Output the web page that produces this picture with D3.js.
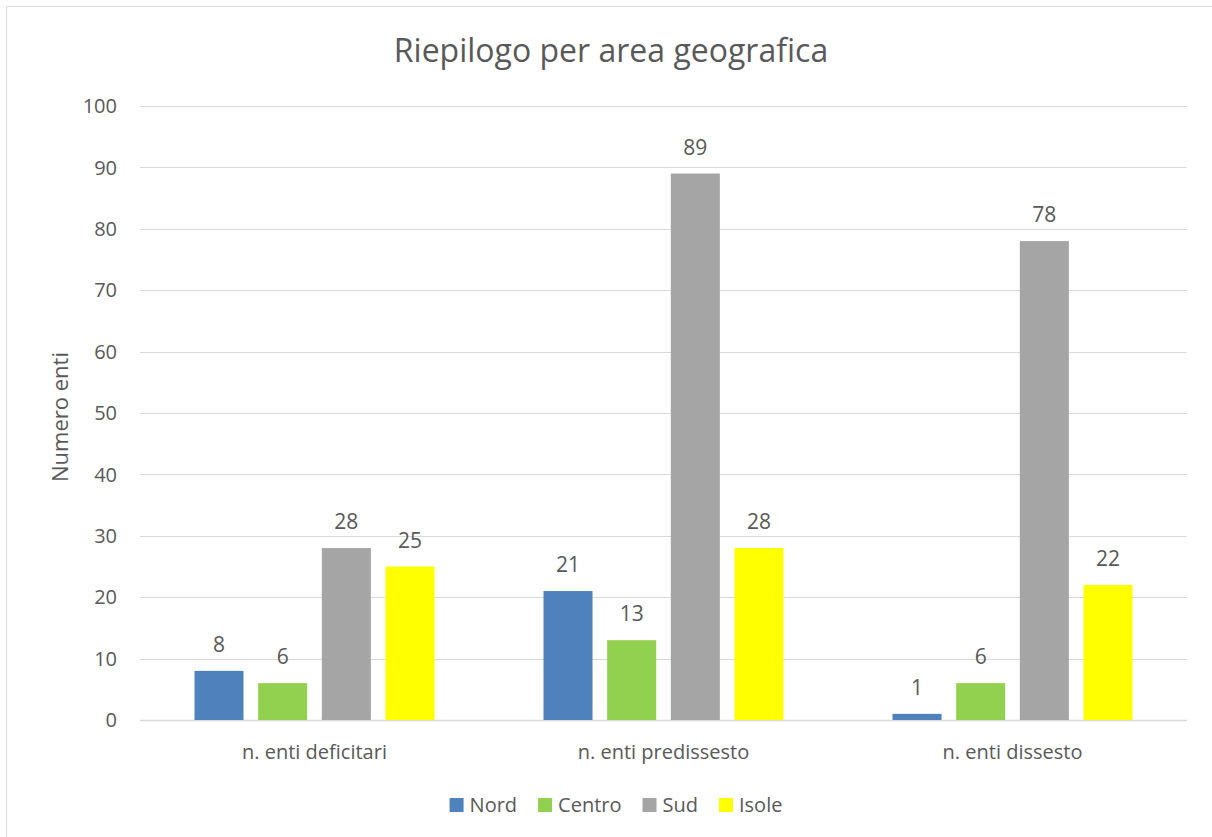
<!DOCTYPE html>
<html>
<head>
<meta charset="utf-8">
<script src="https://cdn.jsdelivr.net/npm/d3@7"></script>
<style>
  body { margin: 0; background: #fff; }
  text { font-family: "Open Sans", "Liberation Sans", sans-serif; fill: #595959; }
</style>
</head>
<body>
<svg id="chart" width="1212" height="837"></svg>
<script>
const categories = ["n. enti deficitari", "n. enti predissesto", "n. enti dissesto"];
const seriesNames = ["Nord", "Centro", "Sud", "Isole"];
const seriesColors = ["#4F81BD", "#92D050", "#A5A5A5", "#FFFF00"];
const nord = [8, 21, 1];
const centro = [6, 13, 6];
const sud = [28, 89, 78];
const isole = [25, 28, 22];
const yTicks = [0, 10, 20, 30, 40, 50, 60, 70, 80, 90, 100];

const values = [nord, centro, sud, isole];

const svg = d3.select("#chart");

// chart border
svg.append("rect")
    .attr("x", 6.5).attr("y", 6.5)
    .attr("width", 1220).attr("height", 850)
    .attr("fill", "none")
    .attr("stroke", "#D9D9D9");

const plotLeft = 140, plotRight = 1187, plotTop = 106, plotBottom = 720;

const y = d3.scaleLinear().domain([0, 100]).range([plotBottom, plotTop]);
const x0 = d3.scaleBand().domain(categories).range([plotLeft, plotRight]);
const x1 = d3.scaleBand().domain(seriesNames)
    .range([54.5, x0.bandwidth() - 54.5])
    .paddingInner(0.23);

// gridlines
svg.append("g")
    .selectAll("line")
    .data(yTicks)
    .join("line")
    .attr("x1", plotLeft).attr("x2", plotRight)
    .attr("y1", d => Math.round(y(d)) + 0.5)
    .attr("y2", d => Math.round(y(d)) + 0.5)
    .attr("stroke", "#D9D9D9")
    .attr("stroke-width", d => d === 0 ? 1.5 : 1);

// y tick labels
svg.append("g")
    .attr("font-size", 20)
    .attr("text-anchor", "end")
    .selectAll("text")
    .data(yTicks)
    .join("text")
    .attr("x", 117)
    .attr("y", d => y(d))
    .attr("dy", "0.36em")
    .text(d => d);

// bars
const groups = svg.append("g")
    .selectAll("g")
    .data(categories)
    .join("g")
    .attr("transform", d => `translate(${x0(d)},0)`);

groups.selectAll("rect")
    .data((c, i) => seriesNames.map((s, j) => ({ s, j, v: values[j][i] })))
    .join("rect")
    .attr("x", d => x1(d.s))
    .attr("y", d => y(d.v))
    .attr("width", x1.bandwidth())
    .attr("height", d => y(0) - y(d.v))
    .attr("fill", d => seriesColors[d.j]);

groups.selectAll("text")
    .data((c, i) => seriesNames.map((s, j) => ({ s, j, v: values[j][i] })))
    .join("text")
    .attr("font-size", 21)
    .attr("text-anchor", "middle")
    .attr("x", d => x1(d.s) + x1.bandwidth() / 2)
    .attr("y", d => y(d.v) - 19)
    .text(d => d.v);

// category labels
svg.append("g")
    .attr("font-size", 20)
    .attr("text-anchor", "middle")
    .selectAll("text")
    .data(categories)
    .join("text")
    .attr("x", d => x0(d) + x0.bandwidth() / 2)
    .attr("y", 759)
    .text(d => d);

// title
svg.append("text")
    .attr("x", 611).attr("y", 62)
    .attr("text-anchor", "middle")
    .attr("font-size", 32)
    .text("Riepilogo per area geografica");

// y axis title
svg.append("text")
    .attr("transform", "translate(68,417) rotate(-90)")
    .attr("text-anchor", "middle")
    .attr("font-size", 22)
    .text("Numero enti");

// legend
const legend = svg.append("g").attr("font-size", 20);
const items = legend.selectAll("g")
    .data(seriesNames)
    .join("g");
items.append("rect")
    .attr("width", 14).attr("height", 14)
    .attr("y", 798)
    .attr("fill", (d, i) => seriesColors[i]);
items.append("text")
    .attr("x", 20).attr("y", 812)
    .text(d => d);
const widths = [];
items.each(function () {
    const w = 20 + d3.select(this).select("text").node().getComputedTextLength();
    widths.push(w);
});
const gap = 21;
const total = d3.sum(widths) + gap * (widths.length - 1);
let cx = 616 - total / 2;
items.attr("transform", (d, i) => {
    const t = `translate(${cx},0)`;
    cx += widths[i] + gap;
    return t;
});
</script>
</body>
</html>
